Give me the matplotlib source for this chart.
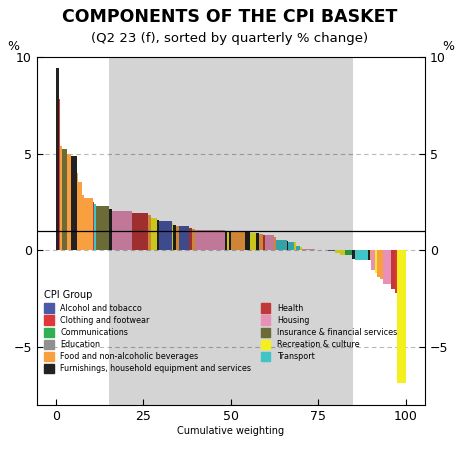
import numpy as np
import matplotlib.pyplot as plt

# CPI groups and colours
groups = ["Alcohol and tobacco", "Clothing and footwear", "Communications", "Education",
          "Food and non-alcoholic beverages", "Furnishings, household equipment and services",
          "Health", "Housing", "Insurance & financial services", "Recreation & culture", "Transport"]
colors = ["#4a5aa8", "#e03838", "#30b050", "#909090", "#f8a040", "#222222",
          "#c03838", "#e890b8", "#6b6b38", "#f4f020", "#40c4c8"]

# components: group code, weight (%), quarterly change (%)
comp_group = ["Fu", "Cl", "Fo", "In", "Fo", "Fu", "Fo", "Fo", "Fo", "Fo", "He", "Tr", "In", "Fu",
              "Ho", "He", "Fo", "Re", "Fu", "Al", "Re", "Fu", "Fo", "Al", "He", "Fo", "Ho",
              "Fu", "Re", "Fu", "Fo", "Fu", "Re", "Fu", "Fo", "He", "Ho", "Fo", "Tr", "Fu", "Tr",
              "Re", "Tr", "Re", "Fo", "Ho", "Tr", "Al", "Al", "Re", "Re", "Co", "Fu", "Tr", "Fu",
              "Fo", "Ho", "Re", "Fo", "Fo", "Ho", "He", "Cl", "Re"]
comp_weight = [0.8, 0.4, 0.6, 1.3, 1.2, 1.7, 0.5, 1.0, 0.5, 2.6, 0.3, 0.7, 3.6, 1.0,
               5.9, 4.4, 1.1, 1.7, 0.4, 3.8, 0.5, 0.8, 0.8, 2.8, 1.0, 0.8, 8.6,
               0.7, 0.5, 0.6, 4.2, 1.4, 1.7, 1.0, 1.0, 0.5, 2.6, 0.7, 3.2, 0.3, 1.6,
               0.7, 1.2, 0.5, 0.8, 3.0, 2.0, 1.9, 1.9, 1.4, 1.4, 2.2, 0.7, 3.8, 0.7,
               0.3, 1.0, 0.6, 1.0, 0.7, 2.3, 1.2, 0.7, 2.5]
comp_value = [9.4, 7.8, 5.4, 5.25, 5.0, 4.85, 4.0, 3.55, 2.85, 2.7, 2.5, 2.4, 2.3, 2.15,
              2.05, 1.95, 1.8, 1.65, 1.55, 1.5, 1.4, 1.3, 1.25, 1.25, 1.15, 1.1, 1.05,
              0.95, 0.95, 0.95, 0.97, 0.95, 0.9, 0.9, 0.85, 0.8, 0.8, 0.7, 0.55, 0.5, 0.45,
              0.45, 0.23, 0.15, 0.08, 0.04, 0.03, 0.02, -0.05, -0.15, -0.25, -0.25, -0.45, -0.5, -0.5,
              -0.5, -1.0, -1.2, -1.4, -1.5, -1.75, -2.0, -2.2, -6.85]

code = {g[:2]: i for i, g in enumerate(groups)}
w = np.array(comp_weight)
w = w / w.sum() * 100
left = np.concatenate([[0], np.cumsum(w)[:-1]])
col = [colors[code[g]] for g in comp_group]

fig, ax = plt.subplots(figsize=(4.6, 4.51), dpi=100)
fig.subplots_adjust(left=0.08, right=0.924, top=0.874, bottom=0.102)

ax.bar(left, comp_value, width=w, align="edge", color=col, linewidth=0, zorder=2)
ax.axvspan(15, 85, color="black", alpha=0.17, lw=0, zorder=3)
ax.axhline(1, color="black", lw=0.9, zorder=4)
for yv in [5, 0, -5]:
    ax.axhline(yv, color="#b8b8b8", lw=0.8, ls=(0, (4, 3)), zorder=1)

ax.set_xlim(-5.5, 105.5)
ax.set_ylim(-8, 10)
ax.set_xticks([0, 25, 50, 75, 100])
ax.set_yticks([-5, 0, 5, 10])
ax.set_yticklabels(["−5", "0", "5", "10"])
ax.tick_params(labelsize=9, direction="in", length=4, right=True, labelright=True)
ax.set_xlabel("Cumulative weighting", fontsize=7, labelpad=2)
ax.text(-0.06, 1.01, "%", transform=ax.transAxes, fontsize=9, ha="center", va="bottom")
ax.text(1.06, 1.01, "%", transform=ax.transAxes, fontsize=9, ha="center", va="bottom")

fig.text(0.5, 0.962, "COMPONENTS OF THE CPI BASKET", ha="center", va="center",
         fontsize=12.5, fontweight="bold")
fig.text(0.5, 0.915, "(Q2 23 (f), sorted by quarterly % change)", ha="center", va="center",
         fontsize=9.5)

handles = [plt.Rectangle((0, 0), 1, 1, color=c) for c in colors]
leg = ax.legend(handles, groups, ncol=2, loc="lower left", bbox_to_anchor=(0.0, 0.07),
                fontsize=5.8, title="CPI Group", title_fontsize=7, frameon=False,
                handlelength=1.2, handleheight=1.4, columnspacing=1.2, labelspacing=0.35,
                alignment="left")
leg.set_zorder(5)

fig.savefig("out.png", dpi=100)
